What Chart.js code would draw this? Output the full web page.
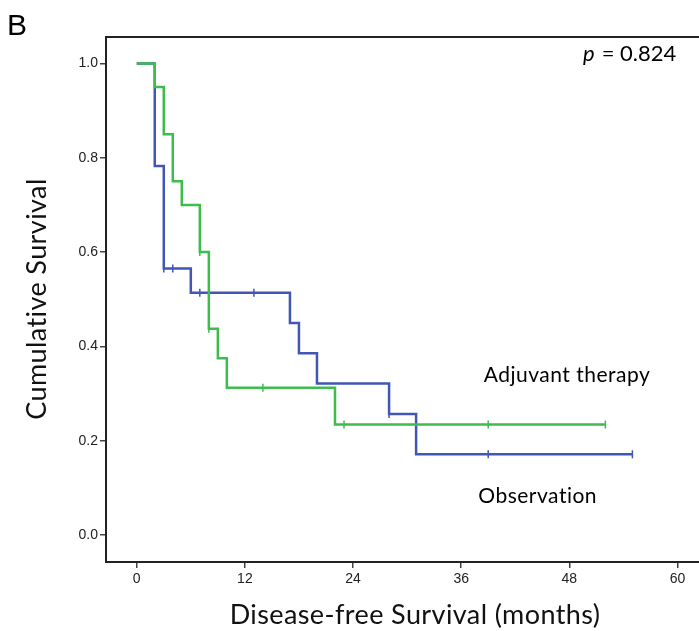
<!DOCTYPE html>
<html>
<head>
<meta charset="utf-8">
<script src="https://cdn.jsdelivr.net/npm/chart.js@4.4.1/dist/chart.umd.min.js"></script>
<style>
  html, body { margin: 0; padding: 0; background: #fff; }
  #wrap { width: 699px; height: 631px; position: relative; }
</style>
</head>
<body>
<div id="wrap"><canvas id="km"></canvas></div>
<script>
// Kaplan-Meier steps (months, cumulative survival)
const adjuvantTimes = [0, 2, 3, 4, 5, 7, 8, 9, 10, 22, 52];
const adjuvantSurv = [1.0, 0.95, 0.85, 0.75, 0.70, 0.60, 0.4375, 0.375, 0.3125, 0.2344, 0.2344];
const adjuvantCensorTimes = [7, 8, 14, 23, 39, 52];
const adjuvantCensorSurv = [0.60, 0.4375, 0.3125, 0.2344, 0.2344, 0.2344];

const observationTimes = [0, 2, 3, 6, 17, 18, 20, 28, 31, 55];
const observationSurv = [1.0, 0.7826, 0.5652, 0.5138, 0.4496, 0.3854, 0.3212, 0.2570, 0.1713, 0.1713];
const observationCensorTimes = [3, 4, 7, 13, 28, 39, 55];
const observationCensorSurv = [0.5652, 0.5652, 0.5138, 0.5138, 0.2570, 0.1713, 0.1713];

const xTicks = [0, 12, 24, 36, 48, 60];
const yTicks = [0.0, 0.2, 0.4, 0.6, 0.8, 1.0];

const GREEN = '#3dbd4c';
const BLUE = '#4157b5';
const CAL = 'Lato, "Open Sans", sans-serif';

function toPoints(xs, ys) {
  return xs.map((x, i) => ({ x: x, y: ys[i] }));
}

// cadre + textes
const framePlugin = {
  id: 'frame',
  afterDraw(chart) {
    const ctx = chart.ctx;
    const a = chart.chartArea;
    const xs = chart.scales.x, ys = chart.scales.y;
    ctx.save();
    ctx.strokeStyle = '#222';
    ctx.lineWidth = 2;
    ctx.strokeRect(a.left, a.top, a.right - a.left + 4, a.bottom - a.top);

    ctx.fillStyle = '#000';
    ctx.font = '30px "Liberation Sans", Arial, sans-serif';
    ctx.textBaseline = 'alphabetic';
    ctx.textAlign = 'left';
    ctx.fillText('B', 7, 35);

    // p value
    ctx.font = 'italic 22px ' + CAL;
    ctx.fillText('p', 583, 61);
    ctx.font = '22px ' + CAL;
    ctx.fillText(' = 0.824', 596, 61);

    // noms des groupes
    ctx.font = '21px ' + CAL;
    ctx.letterSpacing = '0.5px';
    ctx.fillText('Adjuvant therapy', xs.getPixelForValue(38.5), ys.getPixelForValue(0.324));
    ctx.fillText('Observation', xs.getPixelForValue(37.9), ys.getPixelForValue(0.068));

    // titres des axes
    ctx.font = '27px ' + CAL;
    ctx.letterSpacing = '0.4px';
    ctx.fillStyle = '#111';
    ctx.textAlign = 'center';
    ctx.fillText('Disease-free Survival (months)', 415, 624);
    ctx.translate(46, 299);
    ctx.rotate(-Math.PI / 2);
    ctx.fillText('Cumulative Survival', 0, 0);
    ctx.restore();
  }
};

const ctx = document.getElementById('km');
new Chart(ctx, {
  type: 'line',
  data: {
    datasets: [
      {
        label: 'Adjuvant therapy',
        data: toPoints(adjuvantTimes, adjuvantSurv),
        borderColor: GREEN,
        borderWidth: 2.5,
        stepped: 'before',
        pointRadius: 0,
        fill: false
      },
      {
        label: 'Observation',
        data: toPoints(observationTimes, observationSurv),
        borderColor: BLUE,
        borderWidth: 2.5,
        stepped: 'before',
        pointRadius: 0,
        fill: false
      },
      {
        label: 'Adjuvant censored',
        data: toPoints(adjuvantCensorTimes, adjuvantCensorSurv),
        showLine: false,
        pointStyle: 'line',
        rotation: 90,
        pointRadius: 4,
        pointBorderWidth: 1.5,
        pointBorderColor: GREEN,
        pointBackgroundColor: GREEN
      },
      {
        label: 'Observation censored',
        data: toPoints(observationCensorTimes, observationCensorSurv),
        showLine: false,
        pointStyle: 'line',
        rotation: 90,
        pointRadius: 4,
        pointBorderWidth: 1.5,
        pointBorderColor: BLUE,
        pointBackgroundColor: BLUE
      }
    ]
  },
  options: {
    responsive: true,
    maintainAspectRatio: false,
    animation: false,
    layout: { autoPadding: false, padding: { top: 37, right: 0, left: 0, bottom: 0 } },
    plugins: {
      legend: { display: false },
      tooltip: { enabled: false }
    },
    scales: {
      x: {
        type: 'linear',
        min: -3.41,
        max: 62.39,
        afterFit: s => { s.height = 69; s.paddingLeft = 0; s.paddingRight = 0; },
        afterBuildTicks: s => { s.ticks = xTicks.map(v => ({ value: v })); },
        grid: { drawOnChartArea: false, drawTicks: true, tickLength: 6, color: '#444', lineWidth: 1.5 },
        border: { display: false },
        ticks: {
          color: '#222',
          padding: 3,
          font: { family: '"Liberation Sans", Arial, sans-serif', size: 14 },
          maxRotation: 0,
          autoSkip: false
        }
      },
      y: {
        type: 'linear',
        min: -0.057,
        max: 1.056,
        afterFit: s => { s.width = 106; },
        afterBuildTicks: s => { s.ticks = yTicks.map(v => ({ value: v })); },
        grid: { drawOnChartArea: false, drawTicks: true, tickLength: 6, color: '#444', lineWidth: 1.5 },
        border: { display: false },
        ticks: {
          color: '#222',
          padding: 2,
          font: { family: '"Liberation Sans", Arial, sans-serif', size: 14 },
          callback: v => v.toFixed(1),
          autoSkip: false
        }
      }
    }
  },
  plugins: [framePlugin]
});
</script>
</body>
</html>
